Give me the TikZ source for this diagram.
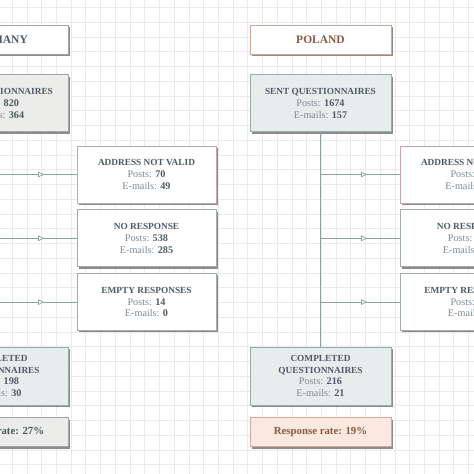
\documentclass[tikz,border=0pt]{standalone}
\usepackage{fontspec}
\setmainfont{Liberation Serif}
\usetikzlibrary{arrows.meta,positioning,shadows,decorations.markings}
\definecolor{headText}{HTML}{4F5A66}
\definecolor{softText}{HTML}{7F8A93}
\definecolor{flowLine}{HTML}{8FA0A0}
\definecolor{gridGray}{HTML}{EAEAEA}
\definecolor{plBrown}{HTML}{8A5A45}
\definecolor{plLine}{HTML}{CBAA99}
\definecolor{plRate}{HTML}{FBE8DF}
\definecolor{sentFill}{HTML}{E7EDED}
\definecolor{sentLine}{HTML}{99ABAB}
\definecolor{deGray}{HTML}{ECECEA}
\definecolor{deLine}{HTML}{A3A3A3}
\definecolor{addrLine}{HTML}{CBA4B4}
\definecolor{midLine}{HTML}{A2ACAC}
\newcommand\pval[2]{{\color{softText}#1:} \textbf{#2}}
\newcommand\hd[1]{{\fontsize{9.3}{11.7}\selectfont\bfseries #1}}

\begin{document}
\begin{tikzpicture}[x=1pt,y=-1pt,
    box/.style={draw,line width=0.8pt,align=center,inner sep=0pt,minimum width=141pt,minimum height=57pt,
      font=\fontsize{10.2}{11.7}\selectfont,text=headText,
      drop shadow={shadow xshift=1.7pt,shadow yshift=-1.7pt,fill=black!60,opacity=0.75}},
    titlebox/.style={box,minimum height=29pt,fill=white,font=\fontsize{11.5}{12}\selectfont\bfseries},
    sentbox/.style={box,fill=sentFill,draw=sentLine},
    donebox/.style={box,minimum height=58pt,fill=sentFill,draw=sentLine},
    ratebox/.style={box,minimum height=29pt,font=\fontsize{10.8}{12}\selectfont\bfseries},
    midbox/.style={box,minimum width=139pt,fill=white,draw=midLine},
    gridline/.style={gridGray,line width=0.5pt},
    flow/.style={draw=flowLine,line width=0.7pt},
    branch/.style={flow,postaction={decorate},
      decoration={markings,mark=at position 0.59 with {\arrow[flowLine]{Triangle[fill=white,length=6pt,width=5.5pt]}}}}
  ]
  \useasboundingbox (0,0) rectangle (474,474);
  \clip (0,0) rectangle (474,474);
  \foreach \gx in {0,...,33} \draw[gridline] ({-2.6+14.72*\gx},0) -- ++(0,474);
  \foreach \gy in {0,...,32} \draw[gridline] (0,{7.3+14.75*\gy}) -- ++(474,0);

  \node[titlebox,draw=deLine] (gTitle) at (-2.5,39.5) {GERMANY};
  \node[sentbox,fill=deGray,draw=deLine,below=20pt of gTitle] (gSent)
    {\hd{SENT QUESTIONNAIRES}\\\pval{Posts}{820}\\\pval{E-mails}{364}};
  \node[midbox,draw=addrLine] (gAddr) at (146.5,174.5)
    {\hd{ADDRESS NOT VALID}\\\pval{Posts}{70}\\\pval{E-mails}{49}};
  \node[midbox,below=6pt of gAddr] (gNone)
    {\hd{NO RESPONSE}\\\pval{Posts}{538}\\\pval{E-mails}{285}};
  \node[midbox,below=6pt of gNone] (gEmpty)
    {\hd{EMPTY RESPONSES}\\\pval{Posts}{14}\\\pval{E-mails}{0}};
  \node[donebox] (gDone) at (-2.5,376)
    {\hd{COMPLETED}\\\hd{QUESTIONNAIRES}\\\pval{Posts}{198}\\\pval{E-mails}{30}};
  \node[ratebox,fill=deGray,draw=deLine,below=12pt of gDone] (gRate) {Response rate: 27\%};

  \node[titlebox,draw=plLine,text=plBrown] (pTitle) at (320.5,39.5) {POLAND};
  \node[sentbox,below=20pt of pTitle] (pSent)
    {\hd{SENT QUESTIONNAIRES}\\\pval{Posts}{1674}\\\pval{E-mails}{157}};
  \node[midbox,draw=addrLine] (pAddr) at (469.5,174.5)
    {\hd{ADDRESS NOT VALID}\\\pval{Posts}{\phantom{00}}\\\pval{E-mails}{\phantom{00}}};
  \node[midbox,below=6pt of pAddr] (pNone)
    {\hd{NO RESPONSE}\\\pval{Posts}{\phantom{000}}\\\pval{E-mails}{\phantom{000}}};
  \node[midbox,below=6pt of pNone] (pEmpty)
    {\hd{EMPTY RESPONSES}\\\pval{Posts}{\phantom{00}}\\\pval{E-mails}{\phantom{0}}};
  \node[donebox] (pDone) at (320.5,376)
    {\hd{COMPLETED}\\\hd{QUESTIONNAIRES}\\\pval{Posts}{216}\\\pval{E-mails}{21}};
  \node[ratebox,fill=plRate,draw=plLine,text=plBrown,below=12pt of pDone] (pRate) {Response rate: 19\%};

  \draw[flow] (gSent) -- (gDone);
  \draw[branch] (gSent.south |- gAddr) -- (gAddr);
  \draw[branch] (gSent.south |- gNone) -- (gNone);
  \draw[branch] (gSent.south |- gEmpty) -- (gEmpty);
  \draw[flow] (pSent) -- (pDone);
  \draw[branch] (pSent.south |- pAddr) -- (pAddr);
  \draw[branch] (pSent.south |- pNone) -- (pNone);
  \draw[branch] (pSent.south |- pEmpty) -- (pEmpty);
\end{tikzpicture}
\end{document}
